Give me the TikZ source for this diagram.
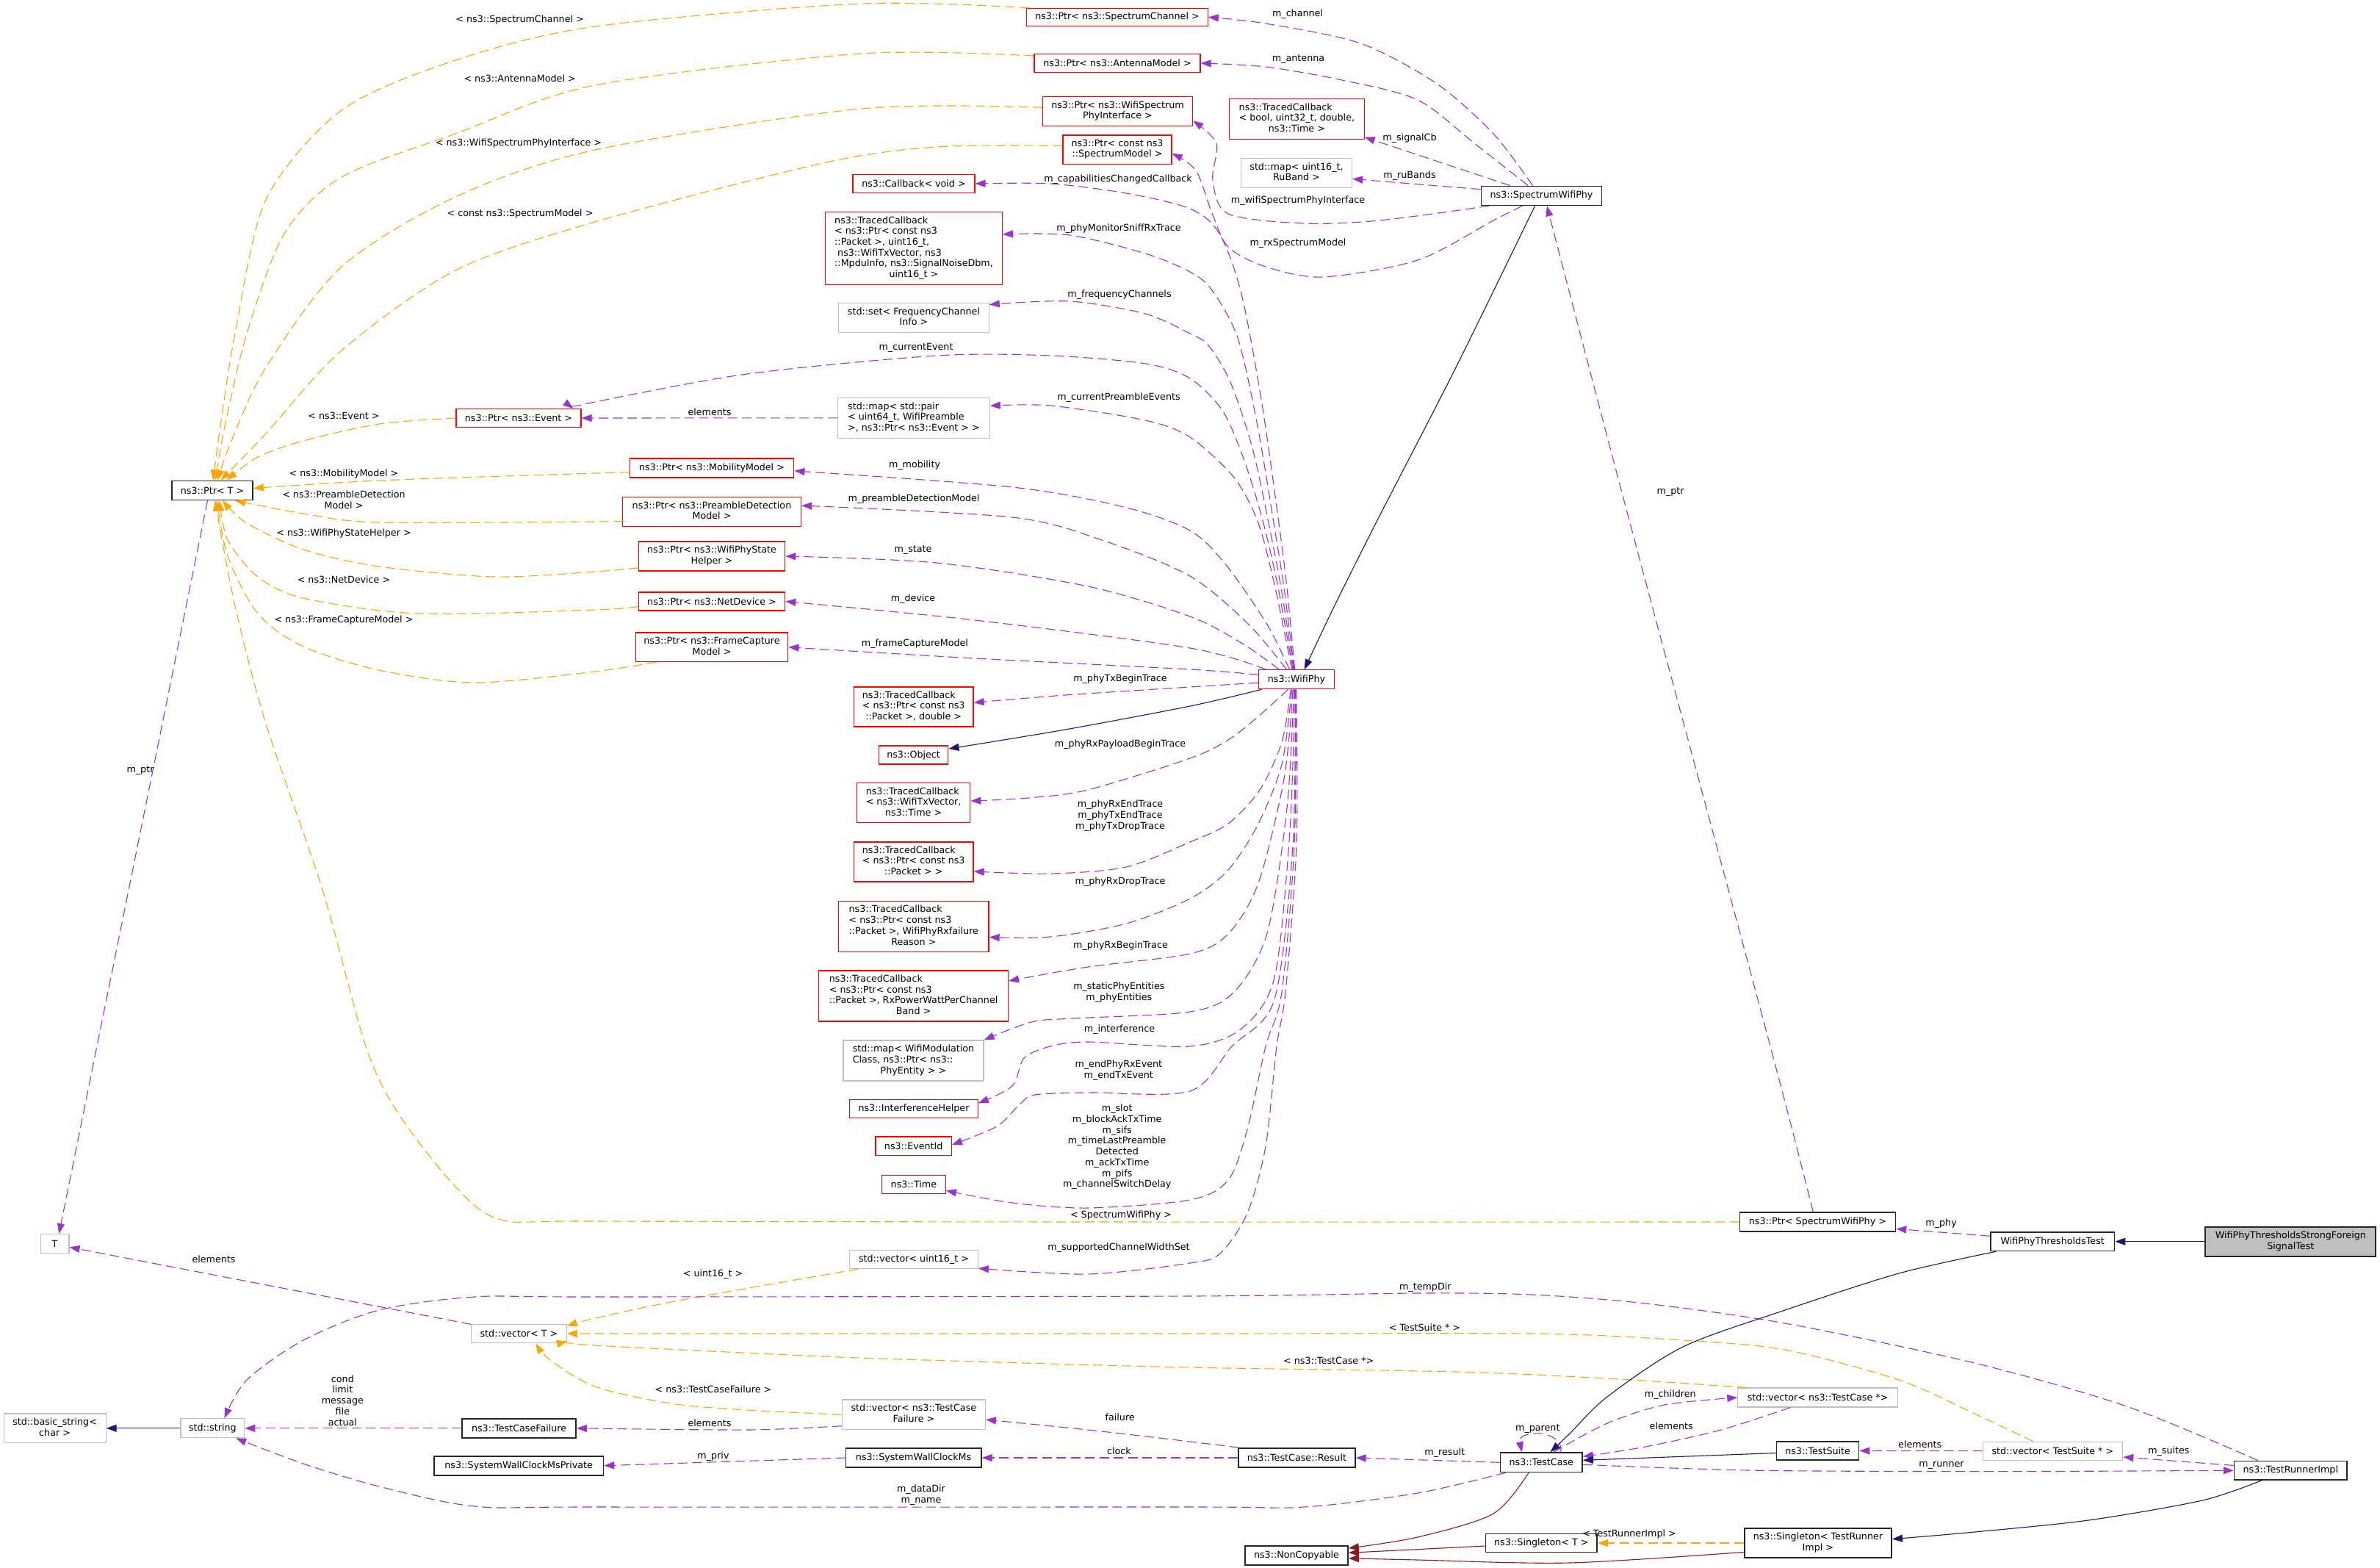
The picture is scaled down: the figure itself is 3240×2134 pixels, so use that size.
\documentclass[tikz,border=0pt]{standalone}
\usepackage{fontspec}
\setmainfont{DejaVu Sans}
\usetikzlibrary{arrows.meta}
\definecolor{dorange}{HTML}{FFA500}
\definecolor{dpurple}{HTML}{9A32CD}
\definecolor{dblue}{HTML}{191970}
\definecolor{dred}{HTML}{8B1A1A}
\definecolor{bgray}{HTML}{BFBFBF}
\definecolor{bred}{HTML}{FF0000}
\newcommand{\dfont}{\fontsize{12.7}{14.7}\selectfont}
\newcommand{\ml}[2]{\begin{tabular}{@{}l@{}}#1\\\multicolumn{1}{@{}c@{}}{#2}\end{tabular}}
\newcommand{\mkbox}[7]{\node[#1,minimum width=#5pt,minimum height=#6pt] (#2) at (#3,#4) {#7};}
\tikzset{
 box/.style={rectangle,inner sep=0pt,align=center,font=\dfont,fill=white},
 redbox/.style={box,draw=bred,line width=1.2pt},
 graybox/.style={box,draw=bgray,line width=1.2pt},
 blkbox/.style={box,draw=black!85,line width=1.7pt},
 selbox/.style={box,draw=black!85,line width=1.7pt,fill=bgray},
 lbl/.style={inner sep=0pt,align=center,font=\dfont},
 arrtip/.style={-{Triangle[length=14pt,width=10pt]}},
 mem/.style={draw=dpurple,line width=1.1pt,dash pattern=on 13pt off 6.5pt,arrtip},
 tmpl/.style={draw=dorange,line width=1.1pt,dash pattern=on 13pt off 6.5pt,arrtip},
 inh/.style={draw=dblue,line width=1.1pt,arrtip},
 priv/.style={draw=dred,line width=1.1pt,arrtip},
}
\begin{document}
\begin{tikzpicture}[x=1pt,y=-1pt]
\fill[white] (0,0) rectangle (3240,2134);
\useasboundingbox (0,0) rectangle (3240,2134);

% ---------------- nodes ----------------
\mkbox{blkbox}{ptrT}{289}{667.4}{110}{26}{ns3::Ptr< T >}
\mkbox{redbox}{ptrEvent}{706}{569}{170}{25}{ns3::Ptr< ns3::Event >}
\mkbox{redbox}{ptrSC}{1521}{23.4}{246.5}{24}{ns3::Ptr< ns3::SpectrumChannel >}
\mkbox{redbox}{ptrAM}{1521}{86}{226}{25}{ns3::Ptr< ns3::AntennaModel >}
\mkbox{redbox}{ptrWSPI}{1521.5}{151.7}{204}{40}{\ml{ns3::Ptr< ns3::WifiSpectrum}{PhyInterface >}}
\mkbox{redbox}{ptrSM}{1521}{203.7}{148}{39.4}{\ml{ns3::Ptr< const ns3}{::SpectrumModel >}}
\mkbox{redbox}{cbVoid}{1244}{250}{166}{25}{ns3::Callback< void >}
\mkbox{redbox}{tcSniff}{1244}{338}{240.5}{98.6}{\ml{ns3::TracedCallback\\< ns3::Ptr< const ns3\\::Packet >, uint16\_t,\\\hspace{4pt}ns3::WifiTxVector, ns3\\::MpduInfo, ns3::SignalNoiseDbm,}{uint16\_t >}}
\mkbox{graybox}{setFC}{1244}{432.6}{204.4}{40.4}{\ml{std::set< FrequencyChannel}{Info >}}
\mkbox{graybox}{mapPre}{1244}{568.8}{206.5}{55}{\ml{std::map< std::pair\\< uint64\_t, WifiPreamble}{>, ns3::Ptr< ns3::Event > >}}
\mkbox{redbox}{ptrMob}{969}{637}{223.7}{26}{ns3::Ptr< ns3::MobilityModel >}
\mkbox{redbox}{ptrPDM}{969}{696.6}{243}{40}{\ml{ns3::Ptr< ns3::PreambleDetection}{Model >}}
\mkbox{redbox}{ptrState}{969}{757}{199.4}{40}{\ml{ns3::Ptr< ns3::WifiPhyState}{Helper >}}
\mkbox{redbox}{ptrND}{969}{818.5}{199.4}{25}{ns3::Ptr< ns3::NetDevice >}
\mkbox{redbox}{ptrFCM}{969}{880.8}{207.7}{39.5}{\ml{ns3::Ptr< ns3::FrameCapture}{Model >}}
\mkbox{redbox}{tcTxBegin}{1243.7}{962}{162.7}{54}{\ml{ns3::TracedCallback\\< ns3::Ptr< const ns3}{::Packet >, double >}}
\mkbox{redbox}{obj}{1243.6}{1027.5}{94.5}{25}{ns3::Object}
\mkbox{redbox}{tcPayload}{1243.6}{1092.8}{154.4}{54}{\ml{ns3::TracedCallback\\< ns3::WifiTxVector,}{ns3::Time >}}
\mkbox{redbox}{tcPkt}{1243.7}{1173}{162.7}{54}{\ml{ns3::TracedCallback\\< ns3::Ptr< const ns3}{::Packet > >}}
\mkbox{redbox}{tcDrop}{1243.8}{1261}{204.5}{69}{\ml{ns3::TracedCallback\\< ns3::Ptr< const ns3\\::Packet >, WifiPhyRxfailure}{Reason >}}
\mkbox{redbox}{tcRxBegin}{1243.6}{1355.5}{257.7}{69}{\ml{ns3::TracedCallback\\< ns3::Ptr< const ns3\\::Packet >, RxPowerWattPerChannel}{Band >}}
\mkbox{graybox}{mapMod}{1243.5}{1443.4}{191}{55}{\ml{std::map< WifiModulation\\Class, ns3::Ptr< ns3::}{PhyEntity > >}}
\mkbox{redbox}{intf}{1244}{1509}{174.6}{25.4}{ns3::InterferenceHelper}
\mkbox{redbox}{evid}{1243.7}{1559.8}{103.3}{25.5}{ns3::EventId}
\mkbox{redbox}{time}{1243.9}{1611.8}{86.8}{25}{ns3::Time}
\mkbox{graybox}{vecU16}{1244}{1713.8}{174.6}{25.4}{std::vector< uint16\_t >}
\mkbox{graybox}{vecTCF}{1243.9}{1925.2}{195}{40.4}{\ml{std::vector< ns3::TestCase}{Failure >}}
\mkbox{blkbox}{swcm}{1243.6}{1984}{184.4}{25.9}{ns3::SystemWallClockMs}
\mkbox{redbox}{tcSig}{1765.4}{162}{183.4}{54.5}{\ml{ns3::TracedCallback\\< bool, uint32\_t, double,}{ns3::Time >}}
\mkbox{graybox}{mapRu}{1765}{235.5}{151}{40.4}{\ml{std::map< uint16\_t,}{RuBand >}}
\mkbox{blkbox}{swp}{2098.5}{266.4}{164}{26}{ns3::SpectrumWifiPhy}
\mkbox{redbox}{wifiphy}{1765}{924.7}{103}{26}{ns3::WifiPhy}
\mkbox{graybox}{tnode}{74.6}{1692.4}{38.7}{25.4}{T}
\mkbox{graybox}{vecT}{706.4}{1815}{129.7}{25.4}{std::vector< T >}
\mkbox{graybox}{bstr}{74.6}{1943.8}{139}{39.5}{\ml{std::basic\_string<}{char >}}
\mkbox{graybox}{str}{289.3}{1943.8}{86.8}{25.9}{std::string}
\mkbox{blkbox}{tcf}{706.6}{1943.8}{155}{25.9}{ns3::TestCaseFailure}
\mkbox{blkbox}{swcmp}{706.2}{1994.7}{230.4}{26}{ns3::SystemWallClockMsPrivate}
\mkbox{blkbox}{ptrSWP}{2474.4}{1663}{212}{26}{ns3::Ptr< SpectrumWifiPhy >}
\mkbox{blkbox}{result}{1765.4}{1984}{158.6}{26}{ns3::TestCase::Result}
\mkbox{blkbox}{testcase}{2098.3}{1990.3}{111.6}{26.4}{ns3::TestCase}
\mkbox{graybox}{vecTC}{2474.6}{1902}{217.5}{26}{std::vector< ns3::TestCase *>}
\mkbox{blkbox}{noncopy}{1765}{2117}{140}{26.4}{ns3::NonCopyable}
\mkbox{blkbox}{singT}{2098.3}{2100}{151.9}{25}{ns3::Singleton< T >}
\mkbox{blkbox}{singTR}{2474.9}{2100}{200.5}{39.5}{\ml{ns3::Singleton< TestRunner}{Impl >}}
\mkbox{blkbox}{suite}{2474.6}{1974.5}{112}{25}{ns3::TestSuite}
\mkbox{blkbox}{wptt}{2794.2}{1689.7}{168.4}{25.4}{WifiPhyThresholdsTest}
\mkbox{selbox}{sfst}{3118.3}{1689.7}{232}{40}{\ml{WifiPhyThresholdsStrongForeign}{SignalTest}}
\mkbox{graybox}{vecTS}{2794.4}{1974.6}{190.6}{25}{std::vector< TestSuite * >}
\mkbox{blkbox}{runner}{3118.3}{2001.2}{153.4}{25.5}{ns3::TestRunnerImpl}

% ---------------- template edges (orange) ----------------
\draw[tmpl] plot[smooth] coordinates {(ptrSC.174) (1172,5) (810,36) (620,82) (465,150) (362,272) (320,454) (300,580) (ptrT.86)};
\draw[tmpl] plot[smooth] coordinates {(ptrAM.175) (1172,73) (810,116) (620,182) (465,241) (387,318) (336,454) (306,580) (ptrT.73)};
\draw[tmpl] plot[smooth] coordinates {(ptrWSPI.177) (1172,148) (810,204) (620,268) (465,363) (362,500) (315,600) (ptrT.62)};
\draw[tmpl] plot[smooth] coordinates {(ptrSM.176) (1275,200) (1120,222) (810,302) (620,368) (465,477) (362,590) (ptrT.50)};
\draw[tmpl] plot[smooth] coordinates {(ptrEvent.west) (516,577) (413,600) (351,622) (ptrT.35)};
\draw[tmpl] plot[smooth] coordinates {(ptrMob.183) (810,644) (516,654) (ptrT.3)};
\draw[tmpl] plot[smooth] coordinates {(ptrPDM.186) (810,710) (516,711) (413,699) (ptrT.-24)};
\draw[tmpl] plot[smooth] coordinates {(ptrState.189) (810,778) (672,785) (516,771) (413,748) (336,712) (ptrT.-45)};
\draw[tmpl] plot[smooth] coordinates {(ptrND.184) (810,830) (568,835) (413,814) (351,785) (310,735) (ptrT.-55)};
\draw[tmpl] plot[smooth] coordinates {(ptrFCM.195) (810,914) (646,929) (516,912) (413,880) (351,835) (310,757) (ptrT.-65)};
\draw[tmpl] plot[smooth] coordinates {(ptrSWP.west) (1500,1663) (810,1662) (682,1660) (620,1615) (542,1515) (498,1424) (439,1211) (362,985) (320,825) (ptrT.-75)};
\draw[tmpl] plot[smooth] coordinates {(vecU16.190) (929,1769) (810,1794) (vecT.9)};
\draw[tmpl] plot[smooth] coordinates {(vecTS.154) (2688,1924) (2585,1878) (2430,1837) (2291,1824) (2085,1815) (1620,1815) (vecT.east)};
\draw[tmpl] plot[smooth] coordinates {(vecTC.172) (2188,1876) (1982,1867) (1620,1861) (1326,1853) (1120,1846) (810,1831) (vecT.-9)};
\draw[tmpl] plot[smooth] coordinates {(vecTCF.west) (1017,1919) (913,1910) (810,1887) (749,1851) (vecT.-30)};
\draw[tmpl] (singTR.west) -- (singT.east);

% ---------------- member edges (purple) ----------------
\draw[mem] plot[smooth] coordinates {(swp.131) (2033,182) (1956,114) (1852,59) (1723,32) (ptrSC.east)};
\draw[mem] plot[smooth] coordinates {(swp.143) (2007,195) (1930,136) (1827,109) (1723,91) (ptrAM.east)};
\draw[mem] (swp.162) -- (tcSig.-15);
\draw[mem] (swp.174) -- (mapRu.-6);
\draw[mem] plot[smooth] coordinates {(swp.191) (1878,300) (1775,304) (1672,291) (1651,245) (1656,195) (ptrWSPI.-7)};
\draw[mem] plot[smooth] coordinates {(swp.208) (2033,300) (1930,354) (1801,377) (1723,363) (1672,336) (1650,290) (1628,232) (ptrSM.-4)};
\draw[mem] plot[smooth] coordinates {(wifiphy.100) (1752,800) (1741,712) (1718,550) (1690,400) (1660,318) (1620,284) (1533,263) (1430,250) (cbVoid.east)};
\draw[mem] plot[smooth] coordinates {(wifiphy.103) (1748,800) (1734,712) (1712,580) (1685,460) (1650,395) (1620,370) (1559,345) (1456,320) (tcSniff.9)};
\draw[mem] plot[smooth] coordinates {(wifiphy.106) (1744,800) (1727,712) (1705,610) (1675,520) (1645,470) (1620,454) (1559,427) (1456,410) (setFC.10)};
\draw[mem] plot[smooth] coordinates {(wifiphy.110) (1740,800) (1720,712) (1695,630) (1665,560) (1620,515) (1560,495) (1430,484) (1275,484) (1017,509) (810,547) (ptrEvent.10)};
\draw[mem] (mapPre.west) -- (ptrEvent.east);
\draw[mem] plot[smooth] coordinates {(wifiphy.115) (1736,800) (1713,712) (1680,650) (1620,595) (1559,572) (1430,552) (mapPre.9)};
\draw[mem] plot[smooth] coordinates {(wifiphy.125) (1725,850) (1670,770) (1620,722) (1530,690) (1378,663) (ptrMob.-2)};
\draw[mem] plot[smooth] coordinates {(wifiphy.135) (1700,850) (1620,784) (1500,735) (1378,704) (ptrPDM.4)};
\draw[mem] plot[smooth] coordinates {(wifiphy.150) (1690,875) (1620,839) (1481,798) (1275,766) (ptrState.east)};
\draw[mem] plot[smooth] coordinates {(wifiphy.162) (1620,882) (1327,844) (ptrND.east)};
\draw[mem] plot[smooth] coordinates {(wifiphy.173) (1620,911) (1327,896) (ptrFCM.east)};
\draw[mem] plot[smooth] coordinates {(wifiphy.185) (1620,935) (1450,946) (tcTxBegin.4)};
\draw[mem] plot[smooth] coordinates {(wifiphy.230) (1713,975) (1672,1007) (1620,1032) (1481,1075) (1400,1086) (tcPayload.2)};
\draw[mem] plot[smooth] coordinates {(wifiphy.240) (1745,1010) (1715,1075) (1672,1121) (1620,1146) (1533,1180) (1430,1189) (tcPkt.-9)};
\draw[mem] plot[smooth] coordinates {(wifiphy.245) (1745,1040) (1713,1121) (1672,1184) (1620,1223) (1533,1257) (1430,1275) (tcDrop.-8)};
\draw[mem] plot[smooth] coordinates {(wifiphy.250) (1748,1060) (1713,1202) (1672,1271) (1620,1298) (1481,1316) (tcRxBegin.9)};
\draw[mem] plot[smooth] coordinates {(wifiphy.255) (1752,1100) (1725,1270) (1680,1350) (1620,1377) (1460,1386) (1404,1391) (mapMod.north east)};
\draw[mem] plot[smooth] coordinates {(wifiphy.260) (1756,1130) (1735,1330) (1690,1400) (1620,1424) (1481,1418) (1430,1424) (1394,1440) (1378,1478) (intf.5)};
\draw[mem] plot[smooth] coordinates {(wifiphy.263) (1760,1150) (1735,1360) (1677,1424) (1620,1485) (1481,1487) (1409,1490) (1388,1503) (1357,1533) (evid.2)};
\draw[mem] plot[smooth] coordinates {(wifiphy.266) (1762,1150) (1745,1350) (1723,1424) (1698,1537) (1672,1606) (1620,1633) (1481,1644) (1378,1637) (time.-11)};
\draw[mem] plot[smooth] coordinates {(wifiphy.269) (1765,1150) (1750,1350) (1738,1424) (1723,1560) (1698,1651) (1661,1706) (1620,1719) (1481,1734) (vecU16.-8)};
\draw[mem] (ptrT.245) -- (tnode.67);
\draw[mem] (vecT.169) -- (tnode.-14);
\draw[mem] plot[smooth] coordinates {(ptrSWP.114) (2410,1424) (2219,712) (swp.-62)};
\draw[mem] (wptt.175) -- (ptrSWP.-5);
\draw[mem] plot[smooth] coordinates {(runner.163) (2895,1914) (2688,1855) (2430,1801) (2240,1774) (2085,1762) (1930,1760) (1620,1764) (810,1765) (646,1765) (516,1783) (413,1824) (336,1878) (str.40)};
\draw[mem] (tcf.west) -- (str.east);
\draw[mem] plot[smooth] coordinates {(testcase.196) (1930,2032) (1775,2051) (1620,2051) (810,2051) (646,2050) (516,2023) (413,1992) (str.-23)};
\draw[mem] plot[smooth] coordinates {(vecTCF.189) (1017,1946) (tcf.east)};
\draw[mem] (swcm.west) -- (swcmp.east);
\draw[mem] plot[smooth] coordinates {(result.170) (1620,1962) (1481,1946) (vecTCF.-4)};
\draw[mem] (result.west) -- (swcm.east);
\draw[mem] (testcase.west) -- (result.east);
\draw[mem] (testcase.28) .. controls (2130,1945) and (2065,1945) .. (testcase.152);
\draw[mem] plot[smooth] coordinates {(testcase.40) (2188,1937) (2266,1912) (vecTC.west)};
\draw[mem] plot[smooth] coordinates {(vecTC.200) (2343,1946) (2240,1969) (testcase.8)};
\draw[mem] (vecTS.west) -- (suite.east);
\draw[mem] (runner.175) -- (vecTS.-5);
\draw[mem] plot[smooth] coordinates {(testcase.-3) (2291,1998.5) (2430,2001.7) (2740,2002.6) (runner.west)};

% ---------------- inheritance ----------------
\draw[inh] plot[smooth] coordinates {(swp.-123) (1982,500) (1873,712) (1816,826) (wifiphy.52)};
\draw[inh] plot[smooth] coordinates {(wifiphy.196) (1620,961) (1450,993) (obj.10)};
\draw[inh] (str.west) -- (bstr.east);
\draw[inh] (sfst.west) -- (wptt.east);
\draw[inh] plot[smooth] coordinates {(wptt.190) (2585,1733) (2430,1783) (2291,1833) (2188,1901) (2137,1951) (testcase.49)};
\draw[inh] (suite.183) -- (testcase.3);
\draw[inh] plot[smooth] coordinates {(runner.199) (2998,2042) (2843,2069) (2688,2085) (singTR.3)};
\draw[priv] plot[smooth] coordinates {(testcase.219) (2033,2060) (1930,2092) (noncopy.8)};
\draw[priv] (singT.183) -- (noncopy.3);
\draw[priv] plot[smooth] coordinates {(singTR.187) (2136,2127) (1930,2123) (noncopy.-3)};

% ---------------- labels ----------------
\node[lbl] (l1) at (707.6,27.2) {< ns3::SpectrumChannel >};
\node[lbl] (l2) at (707.6,107.2) {< ns3::AntennaModel >};
\node[lbl] (l3) at (706,195.3) {< ns3::WifiSpectrumPhyInterface >};
\node[lbl] (l4) at (708,291) {< const ns3::SpectrumModel >};
\node[lbl] (l5) at (468,565.4) {< ns3::Event >};
\node[lbl] (l6) at (468,645) {< ns3::MobilityModel >};
\node[lbl] (l7) at (468,680) {< ns3::PreambleDetection\\Model >};
\node[lbl] (l8) at (468,725.6) {< ns3::WifiPhyStateHelper >};
\node[lbl] (l9) at (468,789.2) {< ns3::NetDevice >};
\node[lbl] (l10) at (468,844.2) {< ns3::FrameCaptureModel >};
\node[lbl] (l11) at (191,1049) {m\_ptr};
\node[lbl] (l12) at (1522,244) {m\_capabilitiesChangedCallback};
\node[lbl] (l13) at (1523,311.5) {m\_phyMonitorSniffRxTrace};
\node[lbl] (l14) at (1524,401.5) {m\_frequencyChannels};
\node[lbl] (l15) at (1247,473.7) {m\_currentEvent};
\node[lbl] (l16) at (966,560.4) {elements};
\node[lbl] (l17) at (1523,541.3) {m\_currentPreambleEvents};
\node[lbl] (l18) at (1245,633.5) {m\_mobility};
\node[lbl] (l19) at (1244,679.4) {m\_preambleDetectionModel};
\node[lbl] (l20) at (1766.5,19.5) {m\_channel};
\node[lbl] (l21) at (1767.5,80.4) {m\_antenna};
\node[lbl] (l22) at (1919,188.5) {m\_signalCb};
\node[lbl] (l23) at (1919,239.3) {m\_ruBands};
\node[lbl] (l24) at (1767,273.4) {m\_wifiSpectrumPhyInterface};
\node[lbl] (l25) at (1767,331.5) {m\_rxSpectrumModel};
\node[lbl] (l26) at (2274,669.8) {m\_ptr};
\node[lbl] (l27) at (1243,748.3) {m\_state};
\node[lbl] (l28) at (1243,815.5) {m\_device};
\node[lbl] (l29) at (1245.4,876.4) {m\_frameCaptureModel};
\node[lbl] (l30) at (1525,924.5) {m\_phyTxBeginTrace};
\node[lbl] (l31) at (1525,1013.5) {m\_phyRxPayloadBeginTrace};
\node[lbl] (l32) at (1525,1110) {m\_phyRxEndTrace\\m\_phyTxEndTrace\\m\_phyTxDropTrace};
\node[lbl] (l33) at (1525,1200.6) {m\_phyRxDropTrace};
\node[lbl] (l34) at (1525.5,1287.4) {m\_phyRxBeginTrace};
\node[lbl] (l35) at (1523.4,1350.5) {m\_staticPhyEntities\\m\_phyEntities};
\node[lbl] (l36) at (1524,1401.4) {m\_interference};
\node[lbl] (l37) at (1522.8,1457) {m\_endPhyRxEvent\\m\_endTxEvent};
\node[lbl] (l38) at (1520.7,1561) {m\_slot\\m\_blockAckTxTime\\m\_sifs\\m\_timeLastPreamble\\Detected\\m\_ackTxTime\\m\_pifs\\m\_channelSwitchDelay};
\node[lbl] (l39) at (1526,1654.2) {< SpectrumWifiPhy >};
\node[lbl] (l40) at (1523,1698.3) {m\_supportedChannelWidthSet};
\node[lbl] (l41) at (970.6,1734.2) {< uint16\_t >};
\node[lbl] (l42) at (971,1890.8) {< ns3::TestCaseFailure >};
\node[lbl] (l43) at (966,1937.2) {elements};
\node[lbl] (l44) at (1524.7,1929) {failure};
\node[lbl] (l45) at (971,1982) {m\_priv};
\node[lbl] (l46) at (1523.5,1974.9) {clock};
\node[lbl] (l47) at (1254,2034.5) {m\_dataDir\\m\_name};
\node[lbl] (l48) at (291,1714.2) {elements};
\node[lbl] (l49) at (466.4,1905.9) {cond\\limit\\message\\file\\actual};
\node[lbl] (l50) at (1940.3,1752.3) {m\_tempDir};
\node[lbl] (l51) at (1939.5,1806.4) {< TestSuite * >};
\node[lbl] (l52) at (1808.7,1852.2) {< ns3::TestCase *>};
\node[lbl] (l53) at (2273.8,1897.7) {m\_children};
\node[lbl] (l54) at (2275.2,1940.8) {elements};
\node[lbl] (l55) at (2093.3,1944.9) {m\_parent};
\node[lbl] (l56) at (1966.8,1977) {m\_result};
\node[lbl] (l57) at (2218,2087.5) {< TestRunnerImpl >};
\node[lbl] (l58) at (2642.6,1665.1) {m\_phy};
\node[lbl] (l59) at (2613.7,1965.8) {elements};
\node[lbl] (l60) at (2952.4,1974.9) {m\_suites};
\node[lbl] (l61) at (2643,1994.4) {m\_runner};
\end{tikzpicture}
\end{document}
